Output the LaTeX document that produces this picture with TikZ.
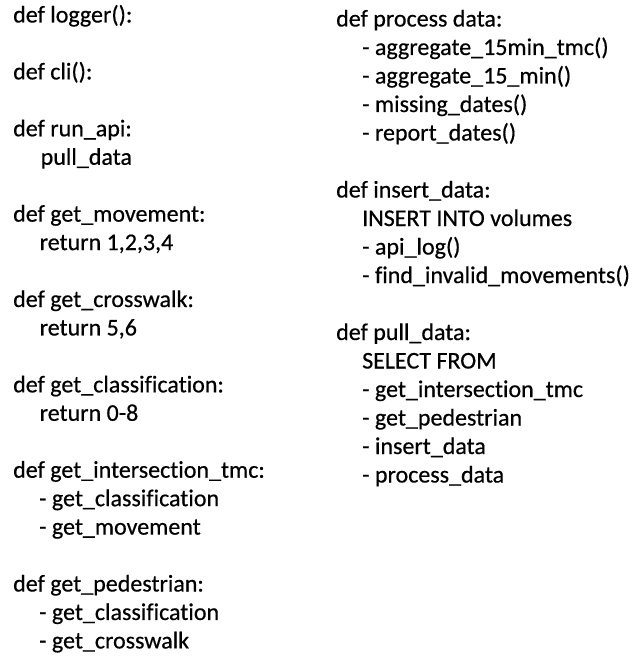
\documentclass[tikz,border=0pt]{standalone}
\usepackage{fontspec}
\setmainfont{Carlito}[Ligatures=NoCommon,FakeBold=0.5]

\begin{document}
\begin{tikzpicture}[x=1bp,y=-1bp,every node/.style={anchor=base west,inner sep=0pt,font=\fontsize{24bp}{28.5bp}\selectfont}]
\useasboundingbox (0,0) rectangle (641,666);
% left column
\foreach \l/\x/\t in {0/13/{def logger():},2/13/{def cli():},4/13/{def run\_api:},5/40.5/{pull\_data},
  7/13/{def get\_movement:},8/39.5/{return 1,2,3,4},10/13/{def get\_crosswalk:},11/39.5/{return 5,6},
  13/13/{def get\_classification:},14/39.5/{return 0-8},16/13/{def get\_intersection\_tmc:},
  17/39/{- get\_classification},18/39/{- get\_movement},20/13/{def get\_pedestrian:},
  21/39/{- get\_classification},22/39/{- get\_crosswalk}}
  \node (l\l) at (\x,22.5+28.45*\l) {\t};
% right column
\foreach \l/\x/\t in {0/336/{def process data:},1/362/{- aggregate\_15min\_tmc()},2/362/{- aggregate\_15\_min()},
  3/362/{- missing\_dates()},4/362/{- report\_dates()},6/336/{def insert\_data:},7/362/{INSERT INTO volumes},
  8/362/{- api\_log()},9/362/{- find\_invalid\_movements()},11/336/{def pull\_data:},12/362/{SELECT FROM},
  13/362/{- get\_intersection\_tmc},14/362/{- get\_pedestrian},15/362/{- insert\_data},16/362/{- process\_data}}
  \node (r\l) at (\x,26.5+28.5*\l) {\t};
\end{tikzpicture}
\end{document}
